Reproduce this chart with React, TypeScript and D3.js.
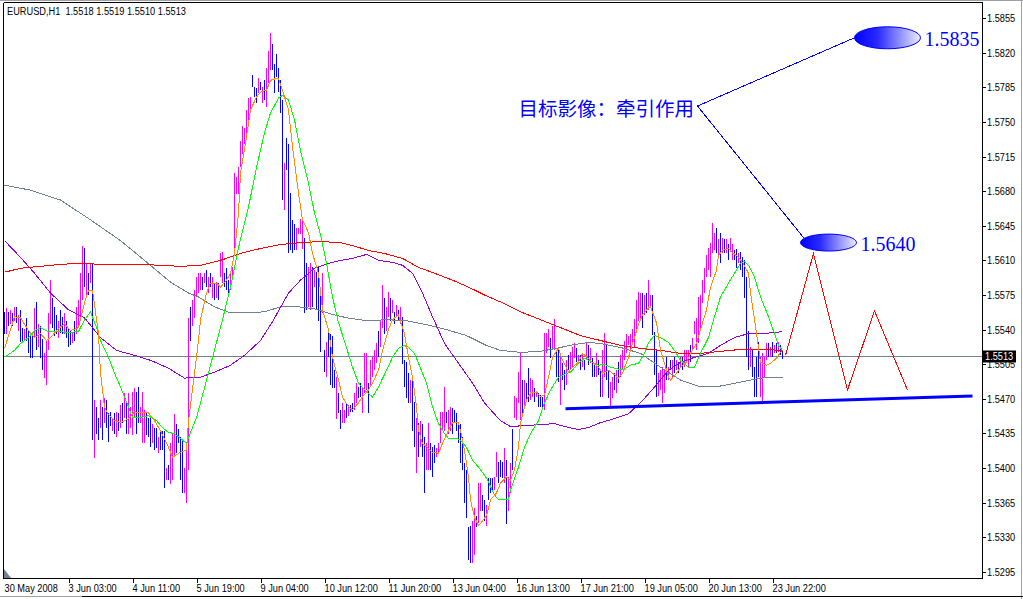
import React from 'react';
import * as d3 from 'd3';

// ---------- DATA (prices in pips above 1.5000) ----------
const SYMBOL = 'EURUSD,H1';
const OHLC = ['1.5518', '1.5519', '1.5510', '1.5513'];
const LAST_PRICE = 5513;

const HIGH = [
  5558,5562,5558,5560,5557,5563,5563,5555,5560,5542,
  5541,5552,5539,5534,5536,5562,5568,5546,5544,5531,
  5516,5529,5557,5590,5572,5563,5555,5549,5560,5553,
  5557,5549,5542,5539,5537,5549,5563,5570,5597,5625,
  5623,5607,5597,5607,5607,5469,5462,5451,5469,5462,
  5471,5469,5456,5457,5451,5456,5457,5456,5464,5466,
  5476,5466,5476,5462,5477,5481,5477,5482,5462,5477,
  5459,5456,5451,5451,5445,5441,5441,5431,5438,5438,
  5438,5400,5403,5425,5435,5455,5445,5440,5431,5428,
  5400,5420,5552,5563,5570,5580,5593,5597,5597,5593,
  5597,5600,5593,5597,5593,5587,5588,5587,5617,5618,
  5597,5602,5590,5598,5603,5698,5694,5704,5731,5746,
  5744,5762,5774,5775,5797,5785,5784,5794,5790,5785,
  5792,5804,5822,5840,5829,5809,5819,5804,5792,5772,
  5708,5734,5728,5678,5651,5647,5643,5643,5652,5652,
  5633,5607,5603,5607,5603,5600,5598,5603,5580,5597,
  5519,5527,5539,5536,5534,5499,5492,5476,5459,5466,
  5459,5466,5464,5464,5466,5476,5486,5482,5486,5482,
  5516,5516,5486,5509,5512,5519,5526,5539,5549,5585,
  5572,5563,5578,5572,5570,5558,5565,5560,5563,5553,
  5509,5507,5496,5489,5492,5467,5451,5446,5448,5445,
  5431,5425,5446,5425,5421,5423,5420,5425,5457,5457,
  5482,5457,5459,5462,5461,5459,5456,5446,5445,5431,
  5405,5398,5340,5342,5347,5360,5352,5385,5385,5373,
  5368,5363,5390,5390,5390,5391,5416,5406,5408,5406,
  5420,5408,5391,5405,5440,5473,5471,5497,5516,5489,
  5489,5486,5501,5491,5489,5481,5477,5476,5474,5472,
  5537,5537,5541,5532,5544,5551,5519,5522,5512,5506,
  5499,5509,5514,5517,5522,5526,5521,5514,5514,5516,
  5509,5526,5524,5521,5511,5506,5516,5509,5499,5519,
  5537,5524,5499,5487,5492,5496,5499,5507,5514,5519,
  5529,5536,5534,5536,5541,5551,5570,5578,5577,5577,
  5575,5577,5590,5575,5575,5538,5520,5496,5499,5502,
  5499,5512,5502,5509,5509,5512,5509,5507,5512,5512,
  5519,5519,5519,5524,5532,5549,5552,5573,5575,5590,
  5602,5615,5623,5628,5648,5638,5643,5632,5638,5633,
  5632,5632,5627,5633,5627,5620,5622,5617,5618,5613,
  5610,5593,5539,5522,5519,5502,5512,5527,5512,5516,
  5512,5526,5526,5522,5527,5524,5526,5527,5524,5519,
];

const LOW = [
  5536,5536,5544,5546,5544,5549,5547,5539,5527,5527,
  5529,5529,5516,5511,5511,5532,5519,5522,5511,5499,
  5491,5484,5519,5546,5542,5534,5536,5532,5537,5536,
  5536,5532,5522,5524,5526,5529,5536,5542,5549,5570,
  5583,5575,5575,5587,5428,5410,5435,5428,5441,5428,
  5446,5441,5426,5443,5438,5435,5431,5438,5441,5446,
  5451,5435,5435,5441,5433,5451,5435,5446,5446,5425,
  5425,5433,5431,5421,5425,5418,5420,5415,5418,5418,
  5380,5388,5388,5384,5388,5413,5415,5425,5388,5375,
  5375,5365,5398,5529,5544,5552,5573,5577,5580,5580,
  5587,5583,5577,5583,5572,5570,5572,5570,5593,5587,
  5583,5580,5573,5580,5590,5620,5677,5677,5704,5718,
  5728,5738,5752,5759,5785,5775,5769,5779,5782,5769,
  5772,5765,5789,5802,5802,5779,5795,5780,5759,5671,
  5661,5701,5617,5620,5617,5620,5620,5637,5637,5622,
  5557,5560,5563,5560,5563,5583,5560,5549,5517,5557,
  5497,5492,5512,5484,5481,5481,5450,5456,5440,5446,
  5446,5451,5453,5457,5457,5459,5466,5471,5472,5456,
  5476,5479,5456,5482,5492,5499,5506,5512,5522,5542,
  5536,5539,5553,5549,5557,5546,5553,5549,5546,5505,
  5482,5471,5466,5466,5438,5421,5395,5411,5421,5411,
  5375,5398,5398,5398,5391,5405,5411,5415,5425,5438,
  5438,5446,5435,5438,5435,5446,5438,5425,5405,5398,
  5365,5350,5307,5304,5304,5312,5340,5345,5357,5357,
  5347,5342,5368,5375,5378,5378,5391,5385,5391,5390,
  5385,5344,5357,5375,5398,5451,5449,5466,5449,5456,
  5462,5469,5467,5469,5472,5467,5472,5462,5462,5459,
  5459,5516,5522,5511,5519,5519,5492,5487,5464,5489,
  5479,5484,5499,5499,5502,5511,5507,5506,5499,5502,
  5499,5509,5504,5506,5492,5492,5492,5494,5472,5472,
  5492,5489,5471,5462,5471,5479,5476,5486,5492,5499,
  5509,5516,5524,5519,5526,5522,5539,5549,5552,5542,
  5555,5557,5560,5563,5535,5494,5472,5473,5479,5466,
  5476,5489,5489,5499,5492,5496,5499,5496,5501,5499,
  5502,5506,5502,5507,5519,5536,5519,5526,5542,5567,
  5577,5593,5600,5593,5617,5620,5617,5612,5607,5617,
  5617,5617,5610,5618,5610,5610,5602,5607,5600,5593,
  5572,5512,5499,5502,5492,5472,5472,5492,5472,5467,
  5492,5509,5512,5512,5512,5516,5516,5517,5514,5510,
];

// 1 = up bar (magenta), 0 = down bar (blue)
const UP = [
  0,1,0,1,0,1,0,1,0,0,
  1,0,0,0,0,1,0,1,0,0,
  1,1,1,1,0,0,0,1,0,0,
  1,0,0,0,1,0,1,1,1,1,
  0,1,0,1,0,1,0,0,1,0,
  1,0,0,0,1,0,1,0,1,0,
  1,0,1,1,1,1,0,0,1,1,
  1,0,0,0,1,0,0,1,0,0,
  0,1,0,1,1,1,0,0,0,0,
  1,1,1,0,1,1,1,1,1,0,
  1,0,1,0,1,0,1,0,1,1,
  0,0,0,1,1,1,1,1,1,1,
  1,1,1,1,0,0,0,1,0,1,
  0,1,1,1,0,0,0,0,0,0,
  1,0,0,0,0,0,1,1,1,1,
  0,0,1,1,0,1,0,0,0,1,
  0,1,0,0,0,0,1,0,0,1,
  1,0,1,0,0,1,1,0,0,1,
  1,1,0,1,1,1,1,0,1,1,
  0,1,1,0,1,0,1,0,1,0,
  0,0,0,1,0,0,1,0,1,0,
  0,1,1,0,0,0,1,1,1,1,
  1,0,1,1,0,0,0,0,0,0,
  0,0,0,0,1,1,0,1,1,0,
  0,1,0,0,0,1,1,0,0,0,
  1,0,1,1,0,1,1,1,1,0,
  1,0,0,1,1,0,1,0,0,0,
  1,1,1,0,1,1,0,0,1,0,
  0,1,0,1,1,1,0,1,0,1,
  0,1,0,1,0,0,1,0,0,1,
  1,0,0,1,1,0,1,0,1,1,
  1,1,1,1,1,1,1,1,1,0,
  1,0,1,1,0,0,0,1,1,1,
  1,0,1,0,1,0,1,0,1,0,
  1,1,1,0,1,1,1,1,1,1,
  1,1,1,1,1,1,0,1,0,1,
  0,1,0,1,1,0,0,1,0,0,
  0,0,0,1,0,0,0,0,1,1,
  1,1,0,1,0,1,0,1,0,0,
];

// Moving averages: [bar index, price pips]
const MA_ORANGE = [[0,5521],[5,5553],[8,5552],[12,5539],[15,5532],[18,5536],[21,5529],[23,5532],[27,5541],[30,5546],[33,5539],[37,5542],[40,5567],[42,5580],[44,5580],[47,5536],[48,5496],[50,5462],[52,5454],[55,5448],[58,5446],[62,5450],[65,5457],[68,5456],[72,5456],[75,5448],[78,5438],[82,5421],[84,5411],[88,5416],[91,5418],[92,5448],[95,5496],[97,5529],[98,5550],[101,5577],[103,5587],[106,5587],[108,5583],[111,5590],[113,5597],[115,5617],[117,5658],[118,5698],[121,5735],[123,5762],[126,5775],[128,5780],[131,5782],[133,5792],[136,5794],[137,5794],[139,5782],[142,5762],[144,5725],[147,5678],[149,5651],[152,5638],[154,5617],[157,5597],[159,5560],[162,5540],[164,5512],[167,5489],[169,5472],[172,5462],[174,5459],[177,5466],[179,5472],[182,5479],[184,5486],[187,5499],[189,5519],[192,5540],[194,5550],[197,5555],[198,5548],[200,5536],[202,5512],[204,5492],[206,5462],[207,5438],[209,5425],[212,5420],[214,5416],[217,5415],[219,5425],[222,5438],[224,5446],[227,5446],[228,5438],[230,5418],[232,5391],[233,5368],[235,5350],[237,5342],[238,5344],[241,5352],[243,5368],[246,5375],[248,5385],[251,5391],[253,5388],[255,5398],[257,5421],[258,5446],[261,5469],[263,5476],[266,5477],[268,5472],[270,5474],[272,5492],[274,5512],[277,5521],[279,5509],[282,5497],[284,5502],[287,5507],[289,5516],[292,5511],[294,5507],[297,5502],[299,5496],[302,5499],[304,5496],[307,5491],[309,5496],[312,5512],[314,5526],[317,5545],[319,5555],[322,5562],[323,5563],[326,5547],[328,5519],[330,5506],[332,5492],[333,5489],[336,5496],[338,5502],[341,5507],[343,5516],[346,5526],[348,5540],[351,5560],[353,5583],[356,5600],[357,5615],[359,5620],[362,5622],[364,5618],[367,5613],[369,5608],[372,5597],[373,5577],[375,5550],[377,5522],[378,5507],[381,5504],[383,5506],[386,5511],[388,5517],[389,5519]];
const MA_GREEN = [[0,5512],[5,5519],[8,5526],[12,5532],[15,5539],[18,5542],[22,5538],[27,5538],[32,5537],[37,5538],[40,5550],[43,5558],[46,5542],[48,5529],[52,5512],[55,5496],[58,5482],[62,5462],[64,5451],[68,5451],[72,5453],[76,5448],[79,5441],[82,5436],[85,5435],[88,5430],[91,5425],[93,5436],[96,5451],[98,5466],[103,5504],[109,5550],[113,5583],[117,5623],[122,5664],[126,5704],[130,5739],[133,5759],[137,5774],[139,5777],[142,5772],[145,5752],[148,5721],[152,5688],[155,5658],[158,5636],[161,5607],[164,5573],[167,5547],[171,5522],[174,5502],[177,5486],[181,5477],[184,5472],[187,5482],[191,5499],[194,5512],[197,5521],[200,5524],[202,5522],[205,5516],[207,5506],[211,5486],[214,5462],[217,5445],[220,5435],[222,5430],[226,5430],[228,5428],[231,5421],[234,5408],[237,5401],[241,5390],[245,5373],[247,5368],[252,5368],[253,5378],[257,5401],[260,5421],[263,5435],[267,5448],[270,5466],[273,5479],[277,5492],[280,5495],[283,5497],[287,5506],[290,5511],[293,5508],[297,5504],[300,5505],[303,5502],[307,5500],[310,5500],[313,5504],[317,5506],[320,5516],[322,5527],[325,5534],[328,5532],[332,5527],[335,5519],[338,5509],[342,5502],[345,5502],[348,5516],[352,5532],[355,5553],[358,5573],[362,5587],[365,5597],[368,5607],[370,5609],[372,5605],[375,5593],[378,5573],[382,5553],[385,5536],[387,5524],[389,5519]];
const MA_PURPLE = [[0,5630],[8,5613],[15,5597],[23,5577],[32,5560],[40,5552],[48,5532],[56,5519],[65,5514],[73,5509],[82,5501],[90,5491],[98,5492],[105,5497],[113,5504],[120,5514],[128,5529],[134,5548],[142,5577],[148,5590],[155,5602],[162,5607],[168,5610],[174,5612],[181,5616],[187,5610],[194,5608],[199,5605],[204,5597],[209,5577],[214,5553],[220,5526],[227,5506],[234,5486],[240,5466],[243,5459],[248,5448],[253,5442],[260,5443],[268,5444],[275,5445],[280,5442],[287,5439],[292,5441],[298,5446],[305,5450],[312,5455],[318,5466],[325,5482],[332,5499],[338,5507],[345,5512],[352,5516],[358,5524],[365,5532],[372,5536],[378,5536],[385,5537],[389,5538]];
const MA_RED = [[0,5598],[8,5602],[18,5604],[28,5606],[38,5607],[48,5606],[68,5606],[88,5604],[98,5605],[108,5610],[118,5617],[128,5622],[138,5626],[148,5628],[158,5629],[168,5628],[174,5625],[182,5620],[190,5617],[199,5612],[207,5603],[215,5597],[224,5590],[232,5583],[240,5575],[248,5568],[258,5558],[268,5550],[278,5542],[288,5534],[298,5529],[308,5524],[318,5521],[328,5519],[338,5516],[348,5516],[358,5518],[368,5520],[378,5520],[389,5519]];
const MA_GRAY = [[0,5686],[13,5681],[28,5671],[43,5651],[58,5630],[73,5605],[83,5588],[92,5577],[97,5573],[105,5563],[113,5557],[122,5557],[130,5558],[138,5563],[147,5563],[155,5561],[163,5556],[171,5552],[181,5549],[191,5550],[201,5549],[211,5545],[221,5540],[231,5534],[241,5524],[248,5519],[258,5517],[268,5518],[278,5522],[285,5525],[292,5527],[298,5526],[308,5522],[318,5516],[328,5502],[338,5489],[348,5482],[358,5483],[368,5487],[378,5491],[389,5492]];

// Drawn objects
const ZIGZAG = [[390.5,5514],[404.5,5617],[421.5,5479],[435,5559],[451.5,5479]];
const TREND = [[280.5,5460],[484,5473]];
const NOTE_TEXT = '目标影像：牵引作用';
const NOTE_POS = [257, 5765];
const NOTE_ANCHOR = [346.5, 5766];
const TARGETS = [
  { i: 441.5, p: 5835, label: '1.5835', line: [425, 5835] },
  { i: 412, p: 5628, label: '1.5640', line: [399.5, 5633] },
];

const PRICE_LABELS = ['1.5855','1.5820','1.5785','1.5750','1.5715','1.5680','1.5645','1.5610','1.5575','1.5540','1.5505','1.5470','1.5435','1.5400','1.5365','1.5330','1.5295'];
const TIME_LABELS = ['30 May 2008','3 Jun 03:00','4 Jun 11:00','5 Jun 19:00','9 Jun 04:00','10 Jun 12:00','11 Jun 20:00','13 Jun 04:00','16 Jun 13:00','17 Jun 21:00','19 Jun 05:00','20 Jun 13:00','23 Jun 22:00'];
const TIME_INDEX = [0,32,64,96,128,160,192,224,256,288,320,352,384];

const AX_FONT = "'Liberation Sans', Arial, sans-serif";
const SX = 0.84; // horizontal squeeze to mimic the narrow terminal font

function NarrowText({ x, y, children, fill = '#000', baseline }: any) {
  return (
    <text transform={`translate(${x},${y}) scale(${SX},1)`} fontFamily={AX_FONT} fontSize={11}
      fill={fill} dominantBaseline={baseline} style={{ whiteSpace: 'pre' }}>{children}</text>
  );
}

export default function App() {
  const W = 1023, H = 599;
  const left = 3.5, right = 982.5, top = 2.5, bottom = 578.5;
  const x = d3.scaleLinear().domain([0, HIGH.length - 1]).range([4.5, 782.5]);
  const y = d3.scaleLinear().domain([1.5295, 1.5855]).range([572, 18]);
  const pv = (v: number) => 1 + v / 10000;
  const line = d3.line<number[]>().x(d => x(d[0])).y(d => y(pv(d[1])));

  const mas: [number[][], string][] = [
    [MA_GRAY, '#708090'],
    [MA_PURPLE, '#9400d3'],
    [MA_RED, '#ff0000'],
    [MA_GREEN, '#00ff00'],
    [MA_ORANGE, '#ff8c00'],
  ];

  const lastY = Math.round(y(pv(LAST_PRICE))) + 0.5;
  const [ax, ay] = [x(NOTE_ANCHOR[0]), y(pv(NOTE_ANCHOR[1]))];

  return (
    <svg width={W} height={H} style={{ position: 'absolute', left: 0, top: 0, background: '#fff' }}>
      <defs>
        <linearGradient id="eg" x1="0" x2="1" y1="0" y2="0">
          <stop offset="0" stopColor="#0000ff" />
          <stop offset="0.35" stopColor="#2a2aff" />
          <stop offset="1" stopColor="#ececff" />
        </linearGradient>
        <clipPath id="plot">
          <rect x={left} y={top} width={right - left + 1} height={bottom - top} />
        </clipPath>
      </defs>
      <rect x={0} y={0} width={W} height={H} fill="#fff" />

      {/* current price line */}
      <line x1={left} x2={right} y1={lastY} y2={lastY} stroke="#708090" strokeWidth={1} shapeRendering="crispEdges" />

      {/* bars */}
      <g shapeRendering="crispEdges">
        {HIGH.map((h, i) => {
          const yh = Math.round(y(pv(h)));
          const yl = Math.round(y(pv(LOW[i])));
          return (
            <rect key={i} x={Math.round(x(i) - 0.5)} y={yh} width={1} height={Math.max(1, yl - yh)}
              fill={UP[i] ? '#ff00ff' : '#0000ff'} />
          );
        })}
      </g>

      {/* moving averages */}
      <g fill="none" strokeWidth={1} clipPath="url(#plot)" shapeRendering="crispEdges">
        {mas.map(([d, c], k) => (
          <path key={k} d={line(d) || ''} stroke={c} />
        ))}
      </g>

      {/* objects */}
      <g clipPath="url(#plot)">
        <path d={line(ZIGZAG) || ''} fill="none" stroke="#ff0000" strokeWidth={1} shapeRendering="crispEdges" />
        <path d={line(TREND) || ''} fill="none" stroke="#0000ff" strokeWidth={3} />
        {TARGETS.map((t, k) => (
          <line key={k} x1={ax} y1={ay} x2={x(t.line[0])} y2={y(pv(t.line[1]))} stroke="#0000ff" strokeWidth={1}
            shapeRendering="crispEdges" />
        ))}
        {TARGETS.map((t, k) => {
          const cx = x(t.i), cy = y(pv(t.p));
          const rx = k === 0 ? 33 : 28, ry = k === 0 ? 11 : 8.5;
          return (
            <g key={'e' + k}>
              <ellipse cx={cx} cy={cy} rx={rx} ry={ry} fill="url(#eg)" stroke="#0000ff" strokeWidth={1} />
              <text x={cx + rx + 4} y={cy + 1} dominantBaseline="central" fontFamily="'Liberation Serif', serif"
                fontSize={20} fill="#0000ff">{t.label}</text>
            </g>
          );
        })}
        <text x={x(NOTE_POS[0])} y={y(pv(NOTE_POS[1]))} dominantBaseline="central"
          fontFamily="'Noto Sans CJK SC', sans-serif" fontSize={19.5} fill="#0000ff">{NOTE_TEXT}</text>
      </g>

      {/* frame */}
      <g stroke="#000" strokeWidth={1} shapeRendering="crispEdges">
        <line x1={left} x2={left} y1={top} y2={bottom} />
        <line x1={left} x2={right} y1={top} y2={top} />
        <line x1={right} x2={right} y1={top} y2={bottom} />
        <line x1={left} x2={right} y1={bottom} y2={bottom} />
      </g>
      <line x1={0} x2={W} y1={0.5} y2={0.5} stroke="#a0a0a0" />
      <line x1={W - 1.5} x2={W - 1.5} y1={0} y2={H} stroke="#a0a0a0" />
      <line x1={0} x2={82} y1={596.5} y2={596.5} stroke="#a0a0a0" />
      <line x1={82} x2={W} y1={596.5} y2={596.5} stroke="#000" />
      <polygon points="4,569 4,578 11,578" fill="#708090" />

      {/* header */}
      <NarrowText x={7} y={15}>{SYMBOL + '  ' + OHLC.join(' ')}</NarrowText>

      {/* price axis */}
      <g>
        {PRICE_LABELS.map(s => {
          const yy = Math.round(y(+s)) + 0.5;
          return (
            <g key={s}>
              <line x1={right} x2={right + 3} y1={yy} y2={yy} stroke="#000" shapeRendering="crispEdges" />
              <NarrowText x={987} y={yy} baseline="central">{s}</NarrowText>
            </g>
          );
        })}
        <rect x={983} y={lastY - 6} width={33} height={12} fill="#000" />
        <NarrowText x={985} y={lastY} baseline="central" fill="#fff">{(1 + LAST_PRICE / 10000).toFixed(4)}</NarrowText>
      </g>

      {/* time axis */}
      <g>
        {TIME_INDEX.map((ti, k) => {
          const xx = Math.round(x(ti)) + 0.5;
          return (
            <g key={k}>
              {k > 0 && <line x1={xx} x2={xx} y1={bottom} y2={bottom + 4} stroke="#000" shapeRendering="crispEdges" />}
              <NarrowText x={xx - 1} y={592}>{TIME_LABELS[k]}</NarrowText>
            </g>
          );
        })}
      </g>
    </svg>
  );
}
